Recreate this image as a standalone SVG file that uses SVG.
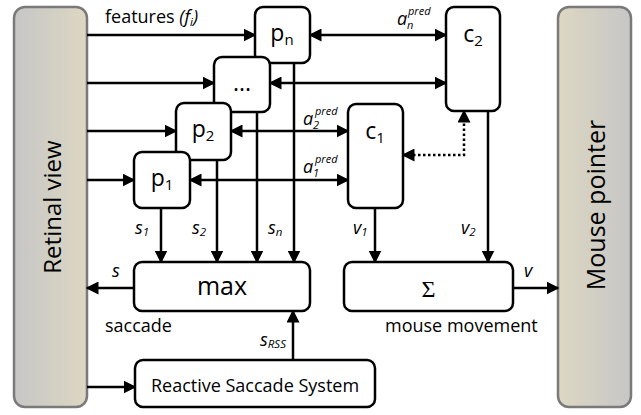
<svg xmlns="http://www.w3.org/2000/svg" width="641" height="415" viewBox="0 0 641 415">
  <defs>
    <linearGradient id="gL" x1="0" y1="0" x2="1" y2="0">
      <stop offset="0" stop-color="#c6c6c6"/>
      <stop offset="1" stop-color="#ddd7c2"/>
    </linearGradient>
    <linearGradient id="gR" x1="0" y1="0" x2="1" y2="0">
      <stop offset="0" stop-color="#ddd7c2"/>
      <stop offset="1" stop-color="#c6c6c6"/>
    </linearGradient>
    <marker id="ah" markerUnits="userSpaceOnUse" markerWidth="14" markerHeight="13" refX="11.5" refY="6.5" orient="auto-start-reverse">
      <path d="M0,0 L13,6.5 L0,13 z" fill="#000" stroke="none"/>
    </marker>
  </defs>
  <style>
    .side{stroke:#7a7a7a;stroke-width:2.5}
    .box{fill:#fff;stroke:#000;stroke-width:2.5}
    .ln{fill:none;stroke:#000;stroke-width:2.5}
    .dot{fill:none;stroke:#000;stroke-width:2.5;stroke-dasharray:2.5 2.5}
    text{font-family:"Open Sans","DejaVu Sans",sans-serif;fill:#000}
    .big{font-size:25px}
    .side-t{font-size:24px}
    .nd{font-size:23px}
    .sb{font-size:15px}
    .lb{font-size:18px}
    .it{font-style:italic}
    .sm{font-size:11.5px;font-style:italic}
    .sp{font-size:11px;font-style:italic}
  </style>

  <g id="retinal-view">
    <rect class="side" x="14" y="7" width="73" height="400" rx="11" fill="url(#gL)"/>
    <text class="side-t" transform="translate(61,207) rotate(-90)" text-anchor="middle">Retinal view</text>
  </g>
  <g id="mouse-pointer">
    <rect class="side" x="558" y="7" width="73" height="400" rx="11" fill="url(#gR)"/>
    <text class="big" transform="translate(605,205) rotate(-90)" text-anchor="middle">Mouse pointer</text>
  </g>

  <g id="connectors">
    <path class="ln" d="M87 35 H255" marker-end="url(#ah)"/>
    <path class="ln" d="M87 83 H214" marker-end="url(#ah)"/>
    <path class="ln" d="M87 131 H176" marker-end="url(#ah)"/>
    <path class="ln" d="M87 180 H134" marker-end="url(#ah)"/>
    <path class="ln" d="M310 35 H446" marker-start="url(#ah)" marker-end="url(#ah)"/>
    <path class="ln" d="M270 83 H446" marker-start="url(#ah)" marker-end="url(#ah)"/>
    <path class="ln" d="M231 131 H348" marker-start="url(#ah)" marker-end="url(#ah)"/>
    <path class="ln" d="M190 180 H348" marker-start="url(#ah)" marker-end="url(#ah)"/>
    <path class="ln" d="M161 208 V262" marker-end="url(#ah)"/>
    <path class="ln" d="M217 160 V262" marker-end="url(#ah)"/>
    <path class="ln" d="M257 112 V262" marker-end="url(#ah)"/>
    <path class="ln" d="M294 63 V262" marker-end="url(#ah)"/>
    <path class="ln" d="M375 208 V262" marker-end="url(#ah)"/>
    <path class="ln" d="M488 111 V262" marker-end="url(#ah)"/>
    <path class="ln" d="M134 288 H87" marker-end="url(#ah)"/>
    <path class="ln" d="M513 288 H558" marker-end="url(#ah)"/>
    <path class="ln" d="M293 360 V311" marker-end="url(#ah)"/>
    <path class="ln" d="M87 387 H135" marker-end="url(#ah)"/>
    <path class="dot" d="M403 155 H464 V111" marker-start="url(#ah)" marker-end="url(#ah)"/>
  </g>

  <g id="p-n">
    <rect class="box" x="255" y="7" width="55" height="56" rx="8"/>
    <text x="282" y="41" text-anchor="middle"><tspan class="nd">p</tspan><tspan class="sb" dy="4">n</tspan></text>
  </g>
  <g id="p-dots">
    <rect class="box" x="214" y="57" width="56" height="55" rx="8"/>
    <text class="nd" x="242" y="91" text-anchor="middle">...</text>
  </g>
  <g id="p-2">
    <rect class="box" x="176" y="103" width="55" height="57" rx="8"/>
    <text x="203" y="137" text-anchor="middle"><tspan class="nd">p</tspan><tspan class="sb" dy="4">2</tspan></text>
  </g>
  <g id="p-1">
    <rect class="box" x="134" y="152" width="56" height="56" rx="8"/>
    <text x="162" y="186" text-anchor="middle"><tspan class="nd">p</tspan><tspan class="sb" dy="4">1</tspan></text>
  </g>
  <g id="c-1">
    <rect class="box" x="348" y="104" width="55" height="104" rx="8"/>
    <text x="375" y="139" text-anchor="middle"><tspan class="nd">c</tspan><tspan class="sb" dy="4">1</tspan></text>
  </g>
  <g id="c-2">
    <rect class="box" x="446" y="7" width="54" height="104" rx="8"/>
    <text x="473" y="42" text-anchor="middle"><tspan class="nd">c</tspan><tspan class="sb" dy="4">2</tspan></text>
  </g>
  <g id="max">
    <rect class="box" x="134" y="262" width="176" height="49" rx="8"/>
    <text class="big" x="222" y="295" text-anchor="middle">max</text>
  </g>
  <g id="sum">
    <rect class="box" x="344" y="262" width="169" height="49" rx="8"/>
    <text x="428.5" y="297" text-anchor="middle" style="font-family:'Liberation Serif','DejaVu Serif',serif;font-size:24px">Σ</text>
  </g>
  <g id="rss">
    <rect class="box" x="135" y="360" width="240" height="47" rx="8"/>
    <text x="255" y="392" text-anchor="middle" style="font-size:18px">Reactive Saccade System</text>
  </g>

  <g id="labels">
    <text class="lb" x="105" y="23">features <tspan class="it">(f</tspan><tspan class="sm" dy="3">i</tspan><tspan class="it" dy="-3">)</tspan></text>
    <text class="lb it" x="397" y="25">a<tspan class="sp" x="408" y="15">pred</tspan><tspan class="sp" x="407" y="29">n</tspan></text>
    <text class="lb it" x="303" y="125">a<tspan class="sp" x="315" y="115">pred</tspan><tspan class="sp" x="313" y="129">2</tspan></text>
    <text class="lb it" x="303" y="173">a<tspan class="sp" x="315" y="163">pred</tspan><tspan class="sp" x="313" y="177">1</tspan></text>
    <text class="lb it" x="135" y="234">s<tspan class="sm" dy="2">1</tspan></text>
    <text class="lb it" x="192" y="234">s<tspan class="sm" dy="2">2</tspan></text>
    <text class="lb it" x="268" y="234">s<tspan class="sm" dy="2">n</tspan></text>
    <text class="lb it" x="353" y="234">v<tspan class="sm" dy="2">1</tspan></text>
    <text class="lb it" x="461" y="234">v<tspan class="sm" dy="2">2</tspan></text>
    <text class="lb it" x="112" y="277">s</text>
    <text class="lb it" x="524" y="277">v</text>
    <text class="lb it" x="260" y="346">s<tspan class="sm" dy="2">RSS</tspan></text>
    <text class="lb" x="105" y="332">saccade</text>
    <text class="lb" x="385" y="332">mouse movement</text>
  </g>
</svg>
